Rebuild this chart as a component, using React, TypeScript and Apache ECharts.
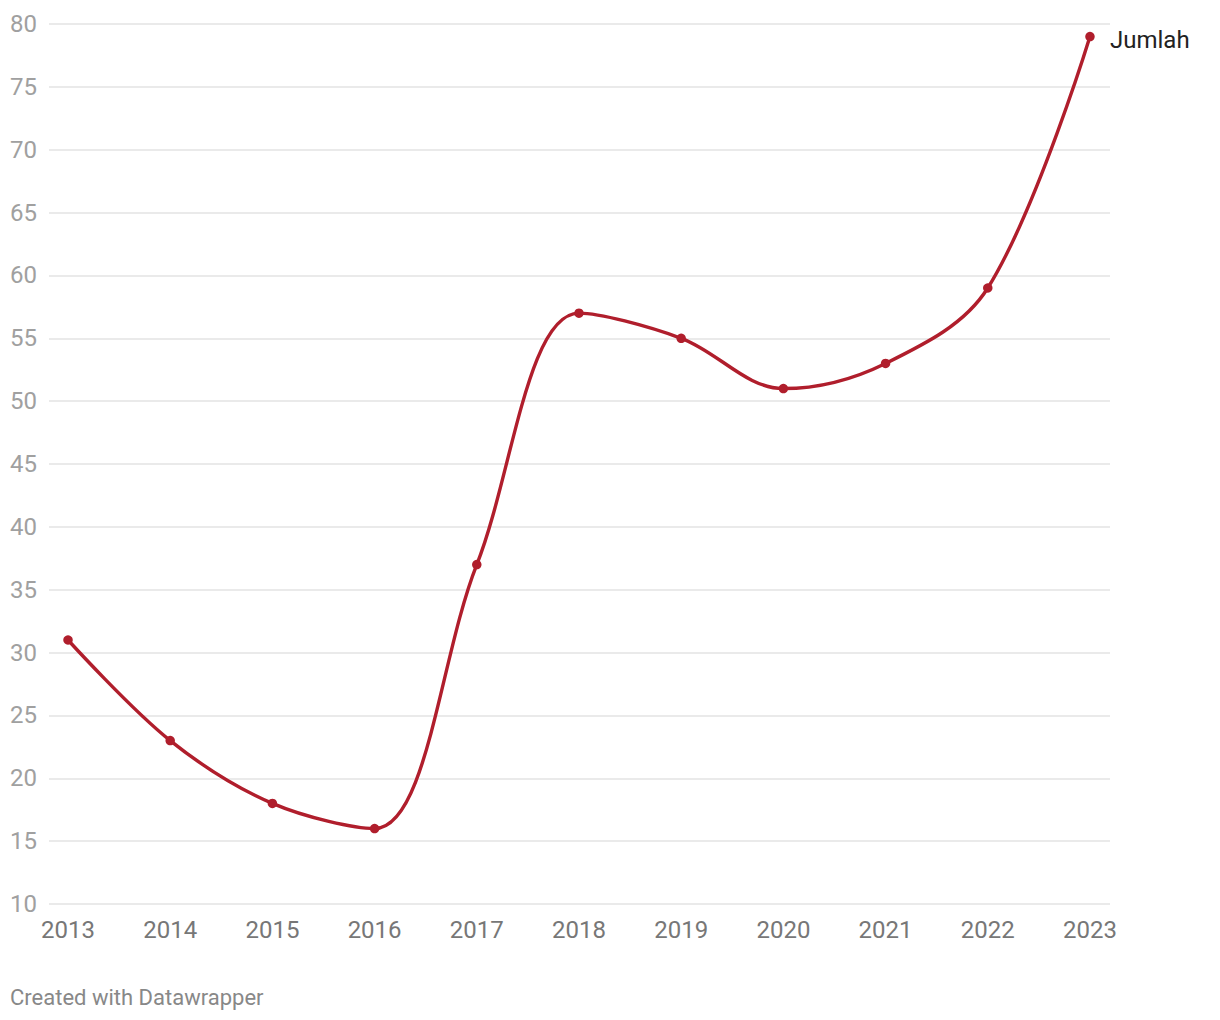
import React, { useEffect, useRef } from "react";
import * as echarts from "echarts";

const years = [2013, 2014, 2015, 2016, 2017, 2018, 2019, 2020, 2021, 2022, 2023];
const jumlah = [31, 23, 18, 16, 37, 57, 55, 51, 53, 59, 79];
const yTicks = [10, 15, 20, 25, 30, 35, 40, 45, 50, 55, 60, 65, 70, 75, 80];
const seriesName = "Jumlah";
const footer = "Created with Datawrapper";

export default function App() {
  const ref = useRef<HTMLDivElement>(null);
  useEffect(() => {
    if (!ref.current) return;
    const chart = echarts.init(ref.current, undefined, { renderer: "svg" });
    const font = "Roboto, 'Noto Sans', sans-serif";
    chart.setOption({
      animation: false,
      grid: { left: 49, right: 110, top: 24, bottom: 116 },
      xAxis: {
        type: "value",
        min: 2012.814,
        max: 2023.196,
        axisLine: { show: false },
        axisTick: { show: false },
        splitLine: { show: false },
        axisLabel: {
          customValues: years,
          formatter: (v: number) => String(Math.round(v)),
          color: "#777777",
          fontSize: 24,
          fontFamily: font,
          margin: 14,
        },
      },
      yAxis: {
        type: "value",
        min: 10,
        max: 80,
        interval: 5,
        axisLine: { show: false },
        axisTick: { show: false },
        splitLine: { lineStyle: { color: "#e3e3e3", width: 1.5 } },
        axisLabel: {
          color: "#a0a0a0",
          fontSize: 24,
          fontFamily: font,
          margin: 12,
          formatter: (v: number) => (yTicks.includes(v) ? String(v) : ""),
        },
      },
      graphic: [
        {
          type: "text",
          left: 10,
          top: 986,
          style: { text: footer, fill: "#888888", fontSize: 22, fontFamily: font },
        },
      ],
      series: [
        {
          name: seriesName,
          type: "line",
          data: years.map((y, i) => [y, jumlah[i]]),
          smooth: 0.35,
          symbol: "circle",
          symbolSize: 9.5,
          showSymbol: true,
          itemStyle: { color: "#b01e2c" },
          lineStyle: { color: "#b01e2c", width: 3.4 },
          endLabel: {
            show: true,
            formatter: seriesName,
            color: "#222222",
            fontSize: 24,
            fontFamily: font,
            distance: 20,
            offset: [0, 3],
          },
        },
      ],
    });
    return () => chart.dispose();
  }, []);
  return (
    <div
      ref={ref}
      style={{ position: "fixed", left: 0, top: 0, width: 1220, height: 1020, background: "#fff" }}
    />
  );
}
